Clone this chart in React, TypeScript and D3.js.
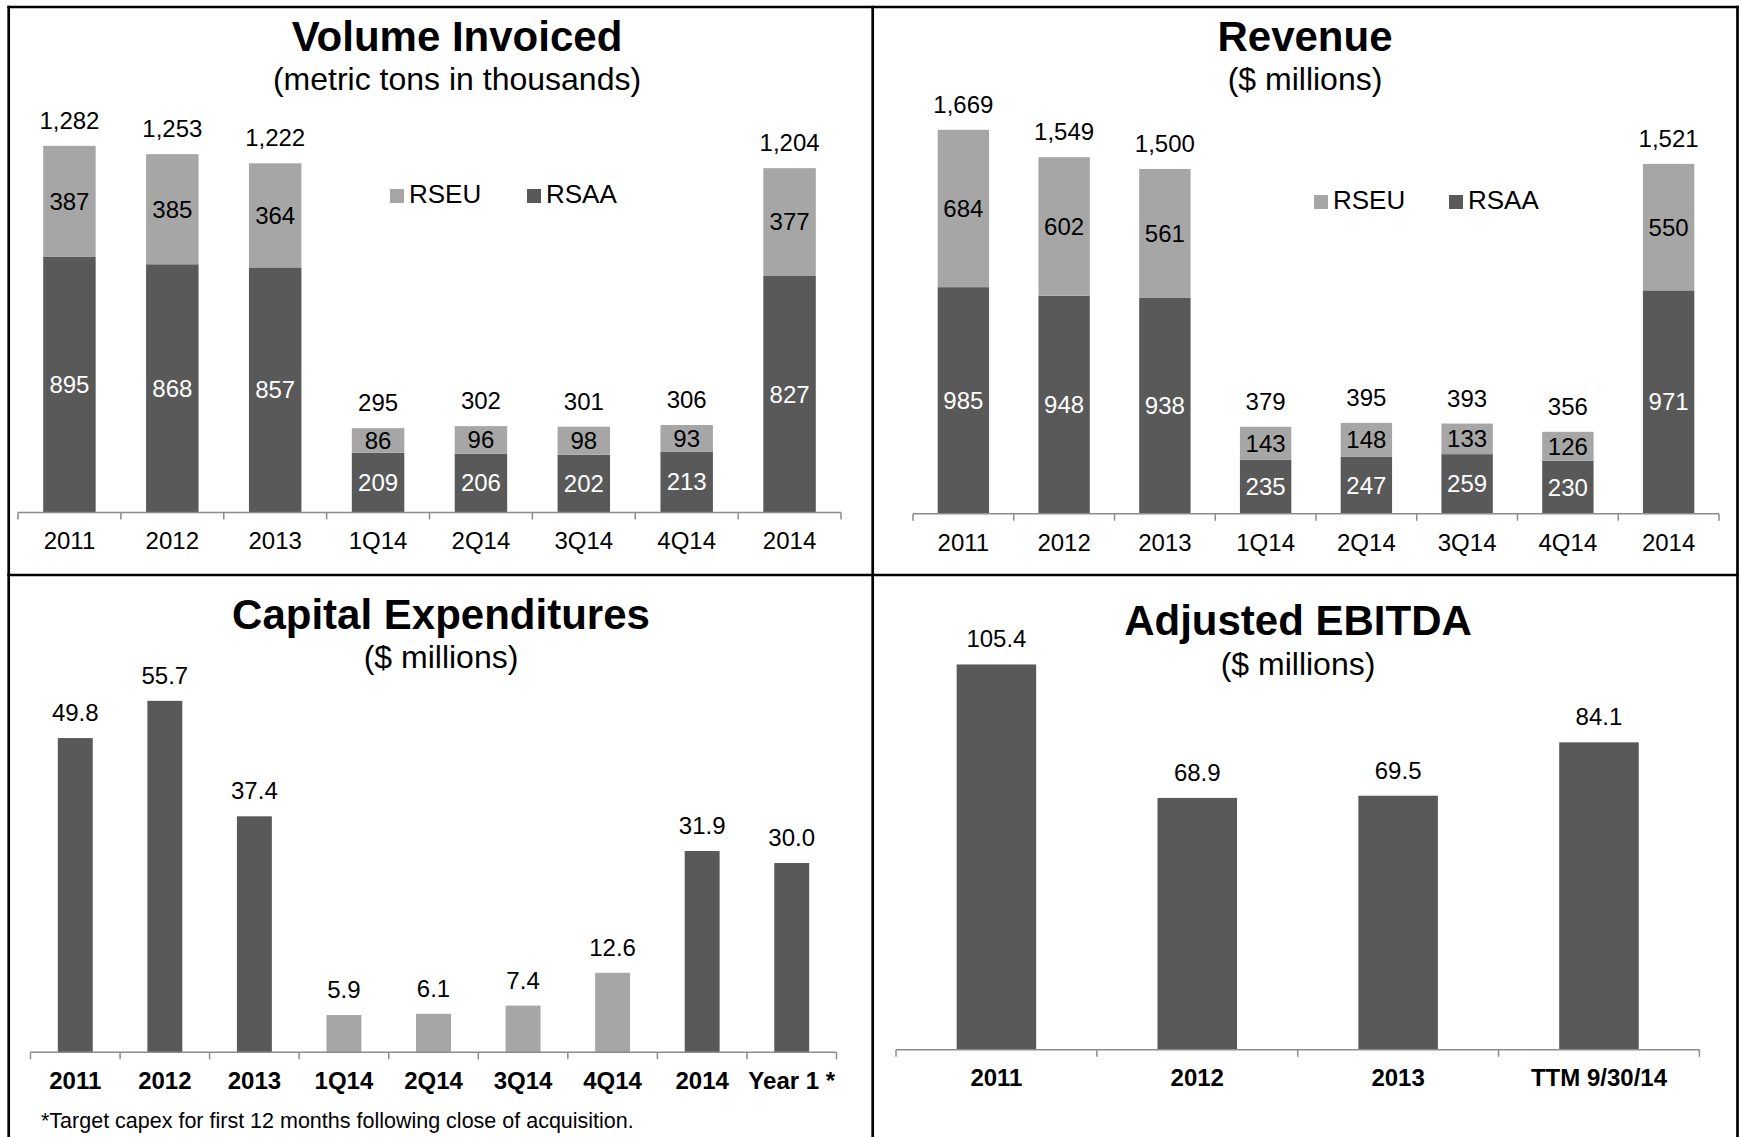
import React, { useEffect, useRef } from 'react';
import * as d3 from 'd3';

// ---- data ----
const periodCategories = ['2011', '2012', '2013', '1Q14', '2Q14', '3Q14', '4Q14', '2014'];
const seriesKeys = ['RSAA', 'RSEU'];

const volumeRSAA = [895, 868, 857, 209, 206, 202, 213, 827];
const volumeRSEU = [387, 385, 364, 86, 96, 98, 93, 377];
const volumeTotals = [1282, 1253, 1222, 295, 302, 301, 306, 1204];

const revenueRSAA = [985, 948, 938, 235, 247, 259, 230, 971];
const revenueRSEU = [684, 602, 561, 143, 148, 133, 126, 550];
const revenueTotals = [1669, 1549, 1500, 379, 395, 393, 356, 1521];

const capexCategories = ['2011', '2012', '2013', '1Q14', '2Q14', '3Q14', '4Q14', '2014', 'Year 1 *'];
const capexValues = [49.8, 55.7, 37.4, 5.9, 6.1, 7.4, 12.6, 31.9, 30.0];

const ebitdaCategories = ['2011', '2012', '2013', 'TTM 9/30/14'];
const ebitdaValues = [105.4, 68.9, 69.5, 84.1];

const DARK = '#595959';
const LIGHT = '#a6a6a6';
const AXIS = '#8c8c8c';
const FONT = '"Liberation Sans", Arial, Helvetica, sans-serif';

const seriesColor = { RSAA: DARK, RSEU: LIGHT };
const seriesText = { RSAA: '#fff', RSEU: '#000' };

function drawTitle(g, cx, title, sub, yTitle, ySub) {
  g.append('text')
    .attr('x', cx).attr('y', yTitle)
    .attr('text-anchor', 'middle')
    .style('font-size', '42px').style('font-weight', 'bold')
    .text(title);
  g.append('text')
    .attr('x', cx).attr('y', ySub)
    .attr('text-anchor', 'middle')
    .style('font-size', '32px')
    .text(sub);
}

function drawAxis(g, x, y0, bold, labelY) {
  const [r0, r1] = x.range();
  const n = x.domain().length;
  const step = x.step();
  g.append('line')
    .attr('x1', r0).attr('x2', r1)
    .attr('y1', y0).attr('y2', y0)
    .attr('stroke', AXIS).attr('stroke-width', 1.5);
  g.append('g')
    .selectAll('line')
    .data(d3.range(n + 1))
    .enter()
    .append('line')
    .attr('x1', i => r0 + i * step).attr('x2', i => r0 + i * step)
    .attr('y1', y0).attr('y2', y0 + 7)
    .attr('stroke', AXIS).attr('stroke-width', 1.5);
  g.append('g')
    .selectAll('text')
    .data(x.domain())
    .enter()
    .append('text')
    .attr('x', d => x(d) + x.bandwidth() / 2)
    .attr('y', labelY)
    .attr('text-anchor', 'middle')
    .style('font-size', '24px')
    .style('font-weight', bold ? 'bold' : 'normal')
    .text(d => d);
}

function drawLegend(g, items, y) {
  items.forEach(it => {
    g.append('rect')
      .attr('x', it.x).attr('y', y - 14)
      .attr('width', 14).attr('height', 14)
      .attr('fill', seriesColor[it.key]);
    g.append('text')
      .attr('x', it.x + 19).attr('y', y)
      .style('font-size', '26px')
      .text(it.key);
  });
}

function drawStacked(g, cfg) {
  const rows = periodCategories.map((c, i) => ({ cat: c, RSAA: cfg.rsaa[i], RSEU: cfg.rseu[i], total: cfg.totals[i] }));
  const x = d3.scaleBand().domain(periodCategories).range(cfg.xRange)
    .paddingInner(0.49).paddingOuter(0.245);
  const y = d3.scaleLinear().domain([0, cfg.max]).range(cfg.yRange);
  const stacked = d3.stack().keys(seriesKeys)(rows);

  stacked.forEach(layer => {
    const lg = g.append('g');
    lg.selectAll('rect')
      .data(layer)
      .enter()
      .append('rect')
      .attr('x', d => x(d.data.cat))
      .attr('width', x.bandwidth())
      .attr('y', d => y(d[1]))
      .attr('height', d => y(d[0]) - y(d[1]))
      .attr('fill', seriesColor[layer.key]);
    lg.selectAll('text')
      .data(layer)
      .enter()
      .append('text')
      .attr('x', d => x(d.data.cat) + x.bandwidth() / 2)
      .attr('y', d => (y(d[0]) + y(d[1])) / 2)
      .attr('dy', '0.35em')
      .attr('text-anchor', 'middle')
      .attr('fill', seriesText[layer.key])
      .style('font-size', '24px')
      .text(d => d.data[layer.key]);
  });

  g.append('g')
    .selectAll('text')
    .data(rows)
    .enter()
    .append('text')
    .attr('x', d => x(d.cat) + x.bandwidth() / 2)
    .attr('y', d => y(d.RSAA + d.RSEU) - 17)
    .attr('text-anchor', 'middle')
    .style('font-size', '24px')
    .text(d => d3.format(',')(d.total));

  drawAxis(g, x, cfg.yRange[0], false, cfg.labelY);
}

function drawSimple(g, cfg) {
  const x = d3.scaleBand().domain(cfg.cats).range(cfg.xRange)
    .paddingInner(cfg.pad).paddingOuter(cfg.pad / 2);
  const y = d3.scaleLinear().domain([0, cfg.max]).range(cfg.yRange);
  const rows = cfg.cats.map((c, i) => ({ cat: c, v: cfg.values[i] }));

  g.append('g')
    .selectAll('rect')
    .data(rows)
    .enter()
    .append('rect')
    .attr('x', d => x(d.cat))
    .attr('width', x.bandwidth())
    .attr('y', d => y(d.v))
    .attr('height', d => y(0) - y(d.v))
    .attr('fill', d => (/^\dQ/.test(d.cat) ? LIGHT : DARK));

  g.append('g')
    .selectAll('text')
    .data(rows)
    .enter()
    .append('text')
    .attr('x', d => x(d.cat) + x.bandwidth() / 2)
    .attr('y', d => y(d.v) - 17)
    .attr('text-anchor', 'middle')
    .style('font-size', '24px')
    .text(d => d3.format('.1f')(d.v));

  drawAxis(g, x, cfg.yRange[0], true, cfg.labelY);
}

const App = () => {
  const ref = useRef(null);

  useEffect(() => {
    const svg = d3.select(ref.current);
    svg.selectAll('*').remove();
    const root = svg.append('g').style('font-family', FONT);

    // panel frames
    const frame = root.append('g').attr('stroke', '#000').attr('stroke-width', 2.7);
    frame.append('line').attr('x1', 8.7).attr('x2', 8.7).attr('y1', 5.7).attr('y2', 1137);
    frame.append('line').attr('x1', 1737.5).attr('x2', 1737.5).attr('y1', 5.7).attr('y2', 1137);
    frame.append('line').attr('x1', 872.7).attr('x2', 872.7).attr('y1', 5.7).attr('y2', 1137);
    frame.append('line').attr('x1', 7.4).attr('x2', 1738.8).attr('y1', 7).attr('y2', 7);
    frame.append('line').attr('x1', 7.4).attr('x2', 1738.8).attr('y1', 575).attr('y2', 575);

    // Volume Invoiced
    const p1 = root.append('g');
    drawTitle(p1, 457, 'Volume Invoiced', '(metric tons in thousands)', 51, 90);
    drawStacked(p1, {
      rsaa: volumeRSAA, rseu: volumeRSEU, totals: volumeTotals,
      max: 1400, xRange: [18, 841], yRange: [512.5, 112.1], labelY: 549,
    });
    drawLegend(p1, [{ key: 'RSEU', x: 390 }, { key: 'RSAA', x: 527 }], 203);

    // Revenue
    const p2 = root.append('g');
    drawTitle(p2, 1305, 'Revenue', '($ millions)', 51, 90);
    drawStacked(p2, {
      rsaa: revenueRSAA, rseu: revenueRSEU, totals: revenueTotals,
      max: 1800, xRange: [913, 1719], yRange: [513.7, 99.7], labelY: 551,
    });
    drawLegend(p2, [{ key: 'RSEU', x: 1314 }, { key: 'RSAA', x: 1449 }], 209);

    // Capital Expenditures
    const p3 = root.append('g');
    drawTitle(p3, 441, 'Capital Expenditures', '($ millions)', 629, 668);
    drawSimple(p3, {
      cats: capexCategories, values: capexValues, pad: 0.61,
      max: 60, xRange: [30.5, 836.5], yRange: [1052.3, 673.7], labelY: 1089,
    });
    p3.append('text')
      .attr('x', 41).attr('y', 1128)
      .style('font-size', '21.5px')
      .text('*Target capex for first 12 months following close of acquisition.');

    // Adjusted EBITDA
    const p4 = root.append('g');
    drawTitle(p4, 1298, 'Adjusted EBITDA', '($ millions)', 635, 675);
    drawSimple(p4, {
      cats: ebitdaCategories, values: ebitdaValues, pad: 0.604,
      max: 120, xRange: [896, 1699.4], yRange: [1049.8, 611.1], labelY: 1086,
    });
  }, []);

  return (
    <svg
      ref={ref}
      width={1741}
      height={1137}
      style={{ position: 'absolute', left: 0, top: 0, background: '#fff' }}
    />
  );
};

export default App;
